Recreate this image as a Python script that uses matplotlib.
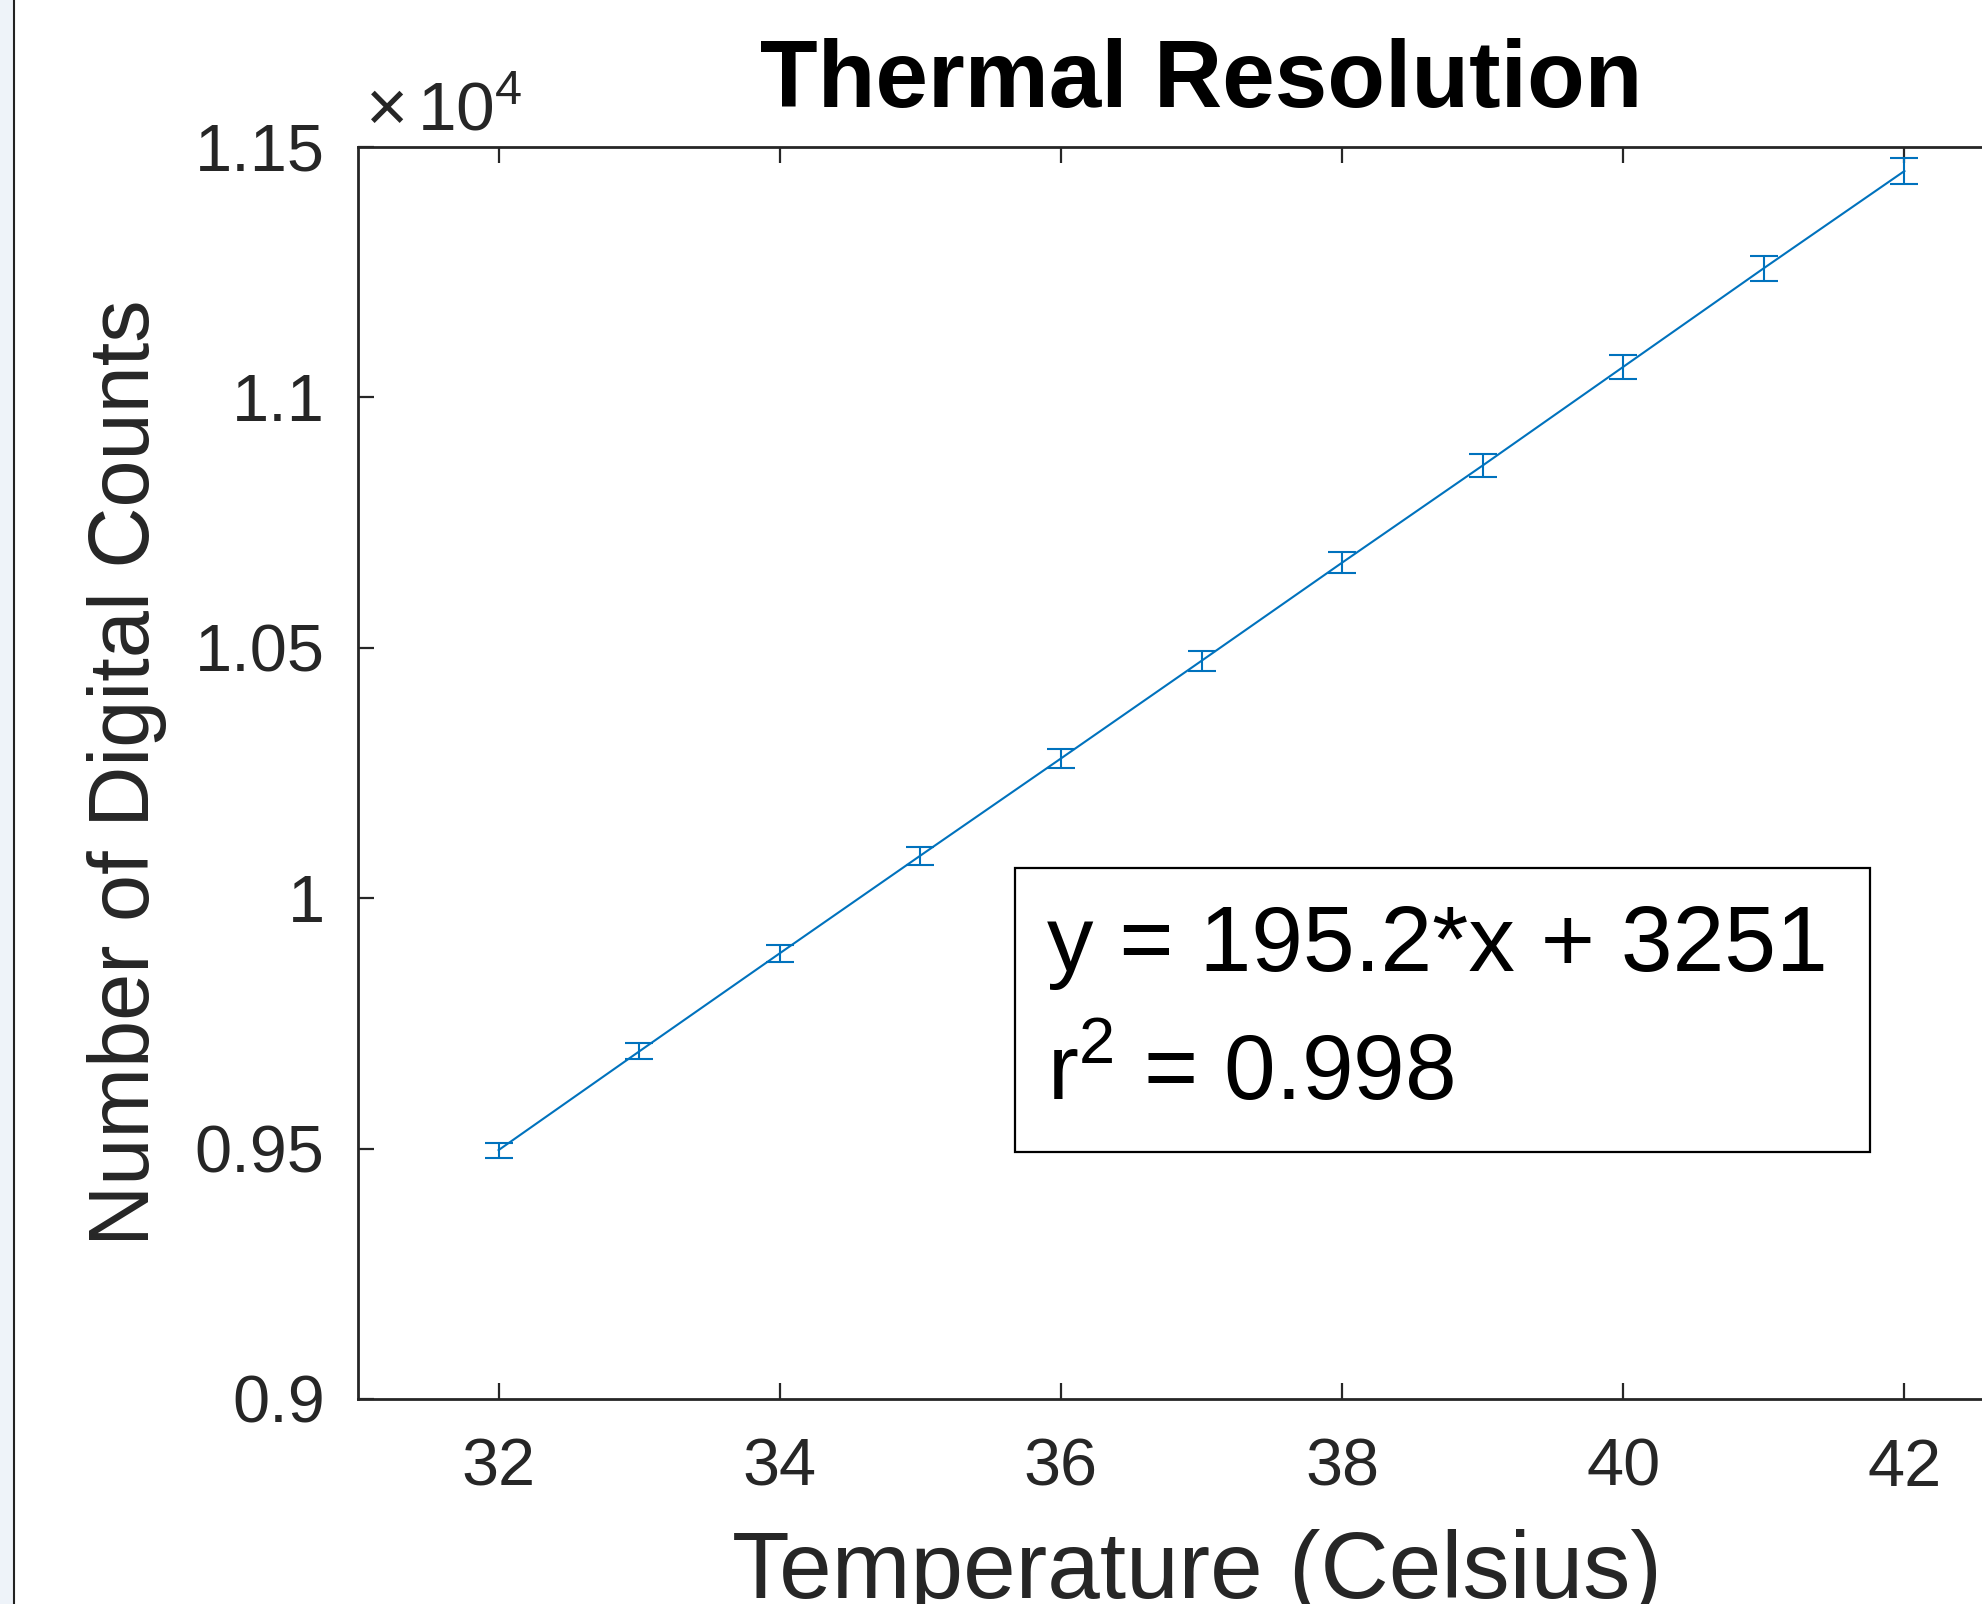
import numpy as np
import matplotlib
matplotlib.use('Agg')
import matplotlib.pyplot as plt
from matplotlib.patches import Rectangle
from matplotlib.lines import Line2D
from matplotlib.ticker import FuncFormatter

plt.rcParams['font.family'] = ['Liberation Sans', 'DejaVu Sans']
plt.rcParams['mathtext.fontset'] = 'custom'
plt.rcParams['mathtext.rm'] = 'Liberation Sans'

# temperature (C) vs digital counts
temps = [32, 33, 34, 35, 36, 37, 38, 39, 40, 41, 42]
counts = [9497, 9694, 9890, 10085, 10279, 10474, 10670, 10864, 11061, 11258, 11452]
count_err = [15, 16, 17, 18, 19, 20, 21, 22, 24, 25, 26]

x_ticks = [32, 34, 36, 38, 40, 42]
y_ticks = [9000, 9500, 10000, 10500, 11000, 11500]

fit_text = 'y = 195.2*x + 3251'
r2_text = 'r$^{\\mathregular{2}}$ = 0.998'

blue = '#0072BD'
axcol = '#262626'

W, H = 1982, 1604
fig = plt.figure(figsize=(W / 100, H / 100), dpi=100)

# axes runs past the right edge (figure was cropped)
ax = fig.add_axes([358 / W, (H - 1399) / H, 1687 / W, 1252 / H])
ax.errorbar(temps, counts, yerr=count_err, color=blue, lw=1.5,
            capsize=10, capthick=1.5, elinewidth=1.5)
ax.set_xlim(31, 43)
ax.set_ylim(9000, 11500)
ax.set_xticks(x_ticks)
ax.set_yticks(y_ticks)
ax.yaxis.set_major_formatter(FuncFormatter(lambda v, p: '%g' % (v / 1e4)))

for s in ax.spines.values():
    s.set_linewidth(2.0)
    s.set_color(axcol)
ax.tick_params(direction='in', top=True, right=True, length=11.5, width=1.6,
               color=axcol, labelcolor=axcol, labelsize=48, pad=24)
ax.tick_params(axis='x', pad=28)

ax.set_title('Thermal Resolution', fontsize=68, fontweight='bold', pad=29)

ax.set_xlabel('Temperature (Celsius)', fontsize=68, color=axcol, va='baseline')
ax.xaxis.set_label_coords(0.497, (1399 - 1598) / 1252)
ax.set_ylabel('Number of Digital Counts', fontsize=61, color=axcol,
              va='baseline', ha='center', rotation_mode='anchor')
ax.yaxis.set_label_coords((149 - 358) / 1687, 0.5)

# exponent label at top of y axis
fig.text(365 / W, (H - 130) / H, '$\\times$', fontsize=52, color=axcol,
         ha='left', va='baseline')
fig.text(417 / W, (H - 130) / H, '10$^{\\mathregular{4}}$', fontsize=50,
         color=axcol, ha='left', va='baseline')

# fit annotation box
ax.add_patch(Rectangle((0.3895, 0.1973), 0.8963 - 0.3895, 0.4241 - 0.1973,
                       transform=ax.transAxes, fill=False, ec='black', lw=1.6,
                       zorder=5))
ax.text(0.4084, 0.3419, fit_text, transform=ax.transAxes, fontsize=67,
        ha='left', va='baseline', color='black')
ax.text(0.4084, 0.2388, r2_text, transform=ax.transAxes, fontsize=67,
        ha='left', va='baseline', color='black')

# window edge strip on the left
fig.patches.append(Rectangle((0, 0), 13 / W, 1, transform=fig.transFigure,
                             color='#eef3f9', zorder=0))
fig.lines.append(Line2D([14 / W, 14 / W], [0, 1], transform=fig.transFigure,
                        color='#222222', lw=1.5))

fig.savefig('out.png', dpi=100)
